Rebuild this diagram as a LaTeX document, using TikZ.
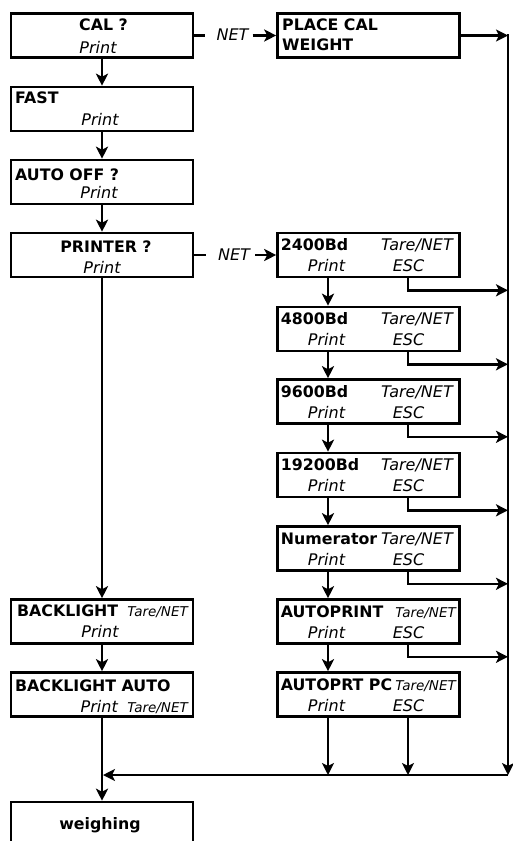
\documentclass[tikz,border=0pt]{standalone}
\usepackage{fontspec}
\setmainfont{DejaVu Sans}
\usetikzlibrary{arrows.meta}
\begin{document}
\begin{tikzpicture}[x=1pt,y=-1pt,
  box/.style={draw, line width=2.6pt, minimum width=182pt, minimum height=44pt, inner sep=0pt},
  wire/.style={line width=2.6pt},
  arr/.style={wire, -{Stealth[length=12pt,width=12pt,inset=3pt]}},
  bt/.style={font=\fontsize{15.8}{18}\selectfont\bfseries, inner sep=0pt},
  it/.style={font=\fontsize{16}{18}\selectfont\itshape, inner sep=0pt},
  its/.style={font=\fontsize{13.5}{16}\selectfont\itshape, inner sep=0pt},
]
\path[use as bounding box] (0,0) rectangle (513,841);
\clip (0,0) rectangle (513,841);

% left column boxes
\node[box] (cal) at (102,35.5) {};
\node[box] (fast) at (102,109) {};
\node[box] (autooff) at (102,182) {};
\node[box] (printer) at (102,255) {};
\node[box] (backlight) at (102,621.5) {};
\node[box] (blauto) at (102,694.5) {};
\node[box, minimum height=60pt] (weighing) at (102,832) {};

% right column boxes
\node[box] (place) at (368.5,35.5) {};
\node[box] (b2400) at (368.5,255) {};
\node[box] (b4800) at (368.5,329) {};
\node[box] (b9600) at (368.5,401.5) {};
\node[box] (b19200) at (368.5,475) {};
\node[box] (numer) at (368.5,548.5) {};
\node[box] (autoprint) at (368.5,621.5) {};
\node[box] (autoprtpc) at (368.5,694.5) {};

% left texts
\node[bt, anchor=base] (tcal) at (103.5,30) {CAL ?};
\node[it, anchor=base] (pcal) at (98,53) {Print};
\node[bt, anchor=base west] (tfast) at (15,103) {FAST};
\node[it, anchor=base] (pfast) at (100,125) {Print};
\node[bt, anchor=base west] (tautooff) at (15,180) {AUTO OFF ?};
\node[it, anchor=base] (pautooff) at (99,198) {Print};
\node[bt, anchor=base] (tprinter) at (106,252) {PRINTER ?};
\node[it, anchor=base] (pprinter) at (102,273) {Print};
\node[bt, anchor=base west] (tbl) at (17,616) {BACKLIGHT};
\node[its, anchor=base east] (nbl) at (188,616) {Tare/NET};
\node[it, anchor=base] (pbl) at (100,637) {Print};
\node[bt, anchor=base west] (tbla) at (15,691) {BACKLIGHT AUTO};
\node[it, anchor=base east] (pbla) at (118,712) {Print};
\node[its, anchor=base east] (nbla) at (188,712) {Tare/NET};
\node[bt, anchor=base] (tw) at (100,829) {weighing};

% right texts
\node[bt, anchor=base west] (tplace1) at (282,30) {PLACE CAL};
\node[bt, anchor=base west] (tplace2) at (282,50) {WEIGHT};

\foreach \n/\t in {b2400/2400Bd, b4800/4800Bd, b9600/9600Bd, b19200/19200Bd, numer/Numerator, autoprint/AUTOPRINT, autoprtpc/AUTOPRT PC}{
  \node[bt, anchor=base west] (t\n) at ([xshift=4.5pt, yshift=4.5pt]\n.west) {\t};
}
\foreach \n in {b2400, b4800, b9600, b19200, numer}{
  \node[it, anchor=base east] (n\n) at ([xshift=84.5pt, yshift=4.5pt]\n.center) {Tare/NET};
}
\foreach \n in {autoprint, autoprtpc}{
  \node[its, anchor=base east] (n\n) at ([xshift=87.5pt, yshift=4.5pt]\n.center) {Tare/NET};
}
\foreach \n in {b2400, b4800, b9600, b19200, numer, autoprint, autoprtpc}{
  \node[it, anchor=base] (p\n) at ([xshift=-42pt, yshift=-16.5pt]\n.center) {Print};
  \node[it, anchor=base] (e\n) at ([xshift=40pt, yshift=-16.5pt]\n.center) {ESC};
}

% NET branches
\draw[wire] (cal.east) -- ++(11,0);
\node[it, anchor=base] (net1) at (232.5,40) {NET};
\draw[arr] ([xshift=4pt]net1.east |- place.west) -- (place.west);
\draw[wire] (printer.east) -- ++(12,0);
\node[it, anchor=base] (net2) at (234,260) {NET};
\draw[arr] ([xshift=5pt]net2.east |- b2400.west) -- (b2400.west);

% left column arrows
\draw[arr] (cal.south) -- (fast.north);
\draw[arr] (fast.south) -- (autooff.north);
\draw[arr] (autooff.south) -- (printer.north);
\draw[arr] (printer.south) -- (backlight.north);
\draw[arr] (backlight.south) -- (blauto.north);
\draw[arr] (blauto.south) -- (weighing.north);

% rail
\coordinate (railtop) at (508,35.5);
\coordinate (railbot) at (508,775);
\coordinate (join) at (103,775);
\draw[arr] (place.east) -- (railtop);
\draw[wire] (railtop) -- ++(0,-1.3);
\draw[arr] (railtop) -- (railbot);
\draw[arr] (railbot) -- (join);

% right column arrows
\draw[arr] ([xshift=-40.5pt]b2400.south) -- ([xshift=-40.5pt]b4800.north);
\draw[arr] ([xshift=-40.5pt]b4800.south) -- ([xshift=-40.5pt]b9600.north);
\draw[arr] ([xshift=-40.5pt]b9600.south) -- ([xshift=-40.5pt]b19200.north);
\draw[arr] ([xshift=-40.5pt]b19200.south) -- ([xshift=-40.5pt]numer.north);
\draw[arr] ([xshift=-40.5pt]numer.south) -- ([xshift=-40.5pt]autoprint.north);
\draw[arr] ([xshift=-40.5pt]autoprint.south) -- ([xshift=-40.5pt]autoprtpc.north);

% ESC connectors
\foreach \n in {b2400, b4800, b9600, b19200, numer, autoprint}{
  \draw[arr] ([xshift=39.5pt]\n.south) |- ([yshift=-12pt]\n.south -| railtop);
}
\draw[arr] ([xshift=-40.5pt]autoprtpc.south) -- ([xshift=-40.5pt]autoprtpc.south |- railbot);
\draw[arr] ([xshift=39.5pt]autoprtpc.south) -- ([xshift=39.5pt]autoprtpc.south |- railbot);
\end{tikzpicture}
\end{document}
